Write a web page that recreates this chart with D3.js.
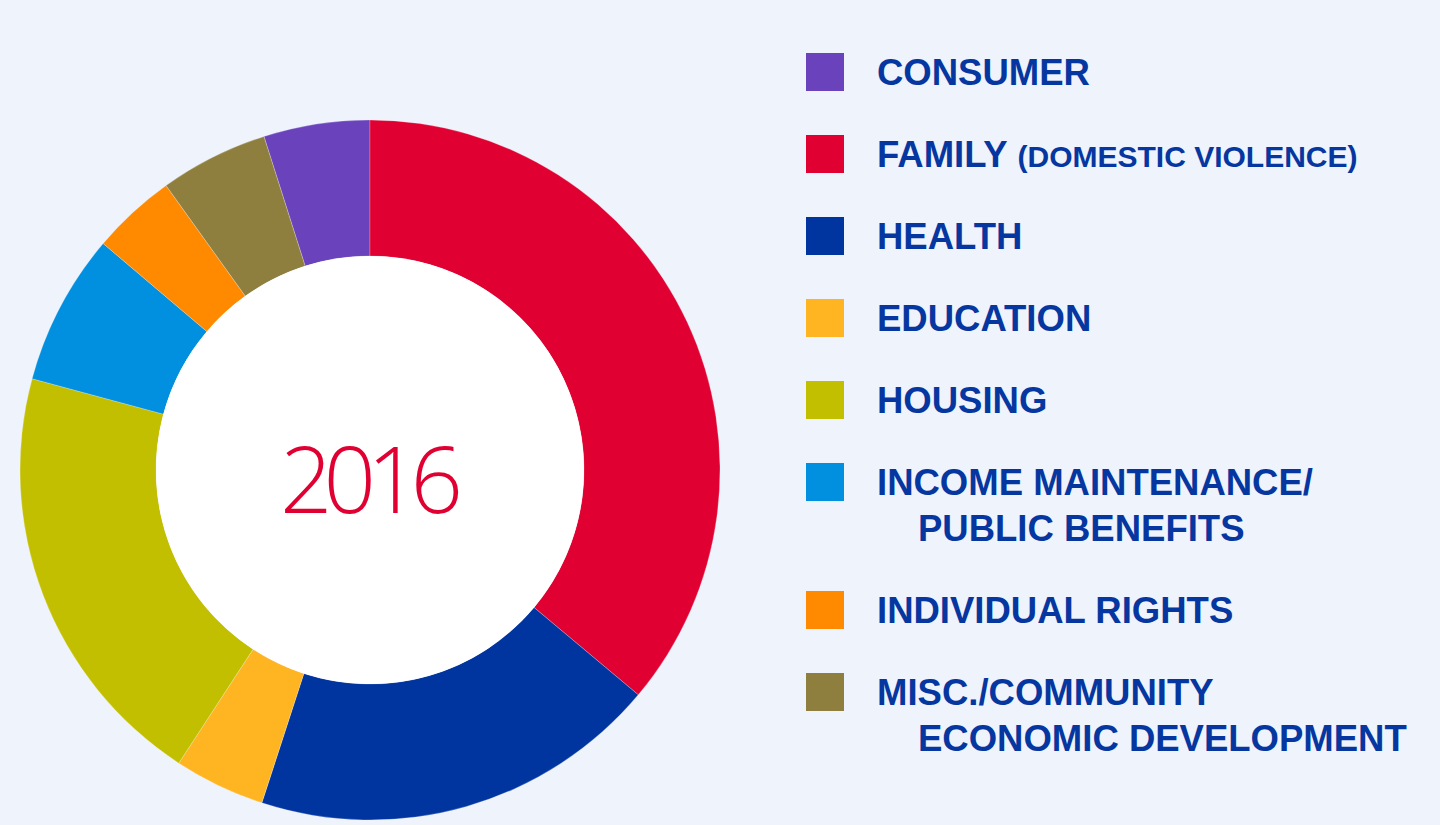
<!DOCTYPE html>
<html>
<head>
<meta charset="utf-8">
<script src="https://cdn.jsdelivr.net/npm/d3@7"></script>
<style>
  html, body { margin: 0; padding: 0; background: #eef3fc; }
  svg { display: block; }
</style>
</head>
<body>
<div id="chart-container"></div>
<script>
// donut chart - 2016 cases by category (share of total, %)
// legend on the right, year in the hole

const categories = ["CONSUMER", "FAMILY", "HEALTH", "EDUCATION", "HOUSING",
    "INCOME MAINTENANCE/PUBLIC BENEFITS", "INDIVIDUAL RIGHTS", "MISC./COMMUNITY ECONOMIC DEVELOPMENT"];
const legendLines = [["CONSUMER"], ["FAMILY"], ["HEALTH"], ["EDUCATION"], ["HOUSING"],
    ["INCOME MAINTENANCE/", "PUBLIC BENEFITS"], ["INDIVIDUAL RIGHTS"], ["MISC./COMMUNITY", "ECONOMIC DEVELOPMENT"]];
const legendNotes = ["", "(DOMESTIC VIOLENCE)", "", "", "", "", "", ""];
const shares = [4.9, 36.1, 18.9, 4.2, 20.0, 7.0, 3.9, 5.0];
const colors = ["#6a42bc", "#e00031", "#0035a0", "#ffb522", "#c2be00", "#0090df", "#ff8a00", "#8f7f3e"];
const yearLabel = "2016";

const svgWidth = 1440;
const svgHeight = 825;
const cx = 370, cy = 470;
const outerR = 350, innerR = 214;
const textColor = "#0637a0";

const svg = d3.select("#chart-container")
    .append("svg")
    .attr("width", svgWidth)
    .attr("height", svgHeight);

svg.append("rect")
    .attr("width", svgWidth)
    .attr("height", svgHeight)
    .attr("fill", "#eef3fc");

const data = categories.map((c, i) => ({ name: c, value: shares[i], color: colors[i] }));

// first slice (consumer) ends at 12 o'clock
const total = d3.sum(shares);
const offset = shares[0] / total * 2 * Math.PI;

const pie = d3.pie()
    .sort(null)
    .value(d => d.value)
    .startAngle(-offset)
    .endAngle(2 * Math.PI - offset);

const arc = d3.arc()
    .innerRadius(innerR)
    .outerRadius(outerR);

const donut = svg.append("g")
    .attr("transform", `translate(${cx},${cy})`);

donut.selectAll("path")
    .data(pie(data))
    .enter()
    .append("path")
    .attr("d", arc)
    .attr("fill", d => d.data.color)
    .attr("stroke", "#ffffff")
    .attr("stroke-opacity", 0.4)
    .attr("stroke-width", 0.6);

donut.append("circle")
    .attr("r", innerR)
    .attr("fill", "#ffffff");

donut.append("text")
    .attr("x", -3)
    .attr("y", 43)
    .attr("text-anchor", "middle")
    .attr("font-family", "'Open Sans', sans-serif")
    .attr("font-weight", 300)
    .attr("font-size", "92px")
    .attr("letter-spacing", "-9px")
    .attr("fill", "#e00031")
    .text(yearLabel);

// legend
const rowStep = 82, extraLine = 46;
let rowY = 53;
const rows = data.map((d, i) => {
    const r = { y: rowY, i: i };
    rowY += rowStep + (legendLines[i].length - 1) * extraLine;
    return r;
});

const legend = svg.append("g");

const row = legend.selectAll("g.row")
    .data(rows)
    .enter()
    .append("g")
    .attr("class", "row")
    .attr("transform", d => `translate(806,${d.y})`);

row.append("rect")
    .attr("width", 38)
    .attr("height", 38)
    .attr("fill", d => colors[d.i]);

const label = row.append("text")
    .attr("font-family", "'Liberation Sans', Arial, sans-serif")
    .attr("font-weight", "bold")
    .attr("font-size", "36.5px")
    .attr("fill", textColor);

label.each(function(d) {
    const t = d3.select(this);
    legendLines[d.i].forEach((line, k) => {
        t.append("tspan")
            .attr("x", k === 0 ? 71 : 112)
            .attr("y", 32 + k * extraLine)
            .text(line);
        if (k === 0 && legendNotes[d.i]) {
            t.append("tspan")
                .attr("dx", 10)
                .attr("font-size", "30px")
                .text(legendNotes[d.i]);
        }
    });
});
</script>
</body>
</html>
